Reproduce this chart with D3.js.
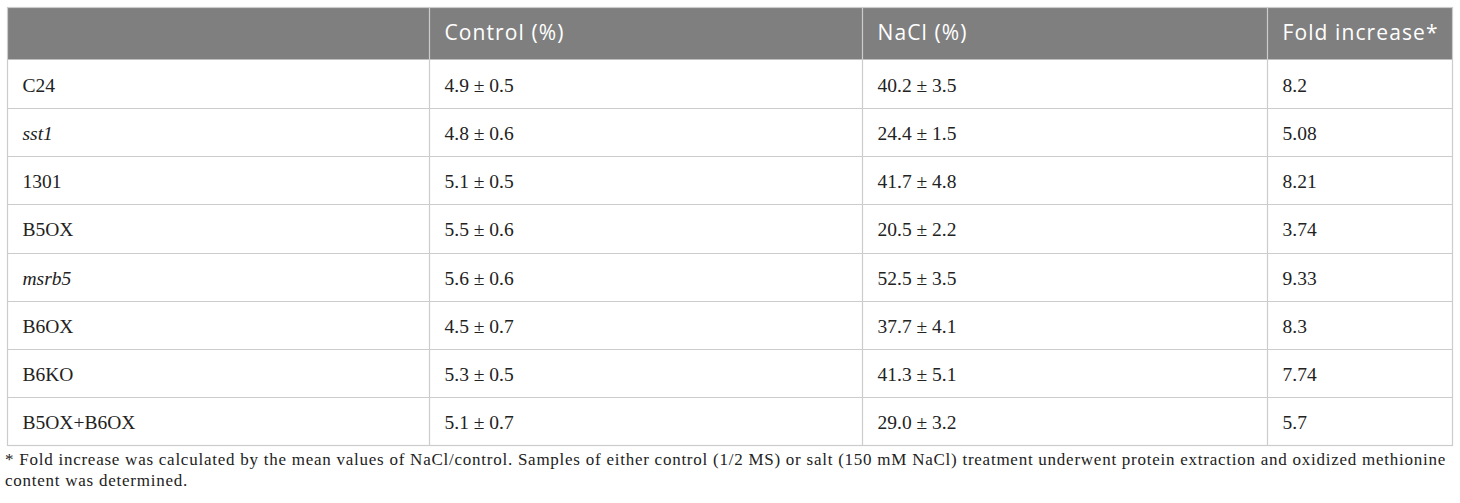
<!DOCTYPE html>
<html><head><meta charset="utf-8">
<script src="https://cdn.jsdelivr.net/npm/d3@7"></script>
<style>
html,body{margin:0;padding:0;background:#fff;}
svg{display:block;}
</style></head>
<body>
<svg id="c" width="1460" height="503"></svg>
<script>
const headers = ["", "Control (%)", "NaCl (%)", "Fold increase*"];
const genotypes = ["C24", "sst1", "1301", "B5OX", "msrb5", "B6OX", "B6KO", "B5OX+B6OX"];
const italicRows = ["sst1", "msrb5"];
const controlValues = ["4.9 ± 0.5", "4.8 ± 0.6", "5.1 ± 0.5", "5.5 ± 0.6", "5.6 ± 0.6", "4.5 ± 0.7", "5.3 ± 0.5", "5.1 ± 0.7"];
const naclValues = ["40.2 ± 3.5", "24.4 ± 1.5", "41.7 ± 4.8", "20.5 ± 2.2", "52.5 ± 3.5", "37.7 ± 4.1", "41.3 ± 5.1", "29.0 ± 3.2"];
const foldValues = ["8.2", "5.08", "8.21", "3.74", "9.33", "8.3", "7.74", "5.7"];
const footnoteLines = [
  "* Fold increase was calculated by the mean values of NaCl/control. Samples of either control (1/2 MS) or salt (150 mM NaCl) treatment underwent protein extraction and oxidized methionine",
  "content was determined."
];

const svg = d3.select("#c");
const colEdges = [7.5, 429.5, 862.5, 1267.5, 1452.5];
const headTop = 7.5, headBottom = 59.5, tableBottom = 445.5;
const y = d3.scaleBand().domain(genotypes).range([headBottom, tableBottom]);
const x = d3.scaleOrdinal().domain(d3.range(4)).range(colEdges.slice(0,4));
const lineColor = "#cccccc";

// header
svg.append("rect").attr("x", colEdges[0]).attr("y", headTop)
  .attr("width", colEdges[4]-colEdges[0]).attr("height", headBottom-headTop)
  .attr("fill", "#7f7f7f");
svg.selectAll("text.h").data(headers).join("text")
  .attr("class","h")
  .attr("x", (d,i)=> x(i) + 15)
  .attr("y", 39.5)
  .attr("fill", "#fff")
  .attr("font-family", "'Open Sans', sans-serif")
  .attr("font-size", 21)
  .attr("letter-spacing", 1.1)
  .text(d=>d);

// row lines
svg.selectAll("line.r").data(genotypes.slice(1)).join("line")
  .attr("x1", colEdges[0]).attr("x2", colEdges[4])
  .attr("y1", d=>Math.round(y(d))+0.5).attr("y2", d=>Math.round(y(d))+0.5)
  .attr("stroke", lineColor).attr("stroke-width", 1.2);
// outer border
svg.append("rect").attr("x", colEdges[0]).attr("y", headTop)
  .attr("width", colEdges[4]-colEdges[0]).attr("height", tableBottom-headTop)
  .attr("fill","none").attr("stroke", lineColor).attr("stroke-width", 1.2);
// column lines
svg.selectAll("line.c").data(colEdges.slice(1,4)).join("line")
  .attr("x1", d=>d).attr("x2", d=>d)
  .attr("y1", headTop).attr("y2", tableBottom)
  .attr("stroke", lineColor).attr("stroke-width", 1.2);

const rows = genotypes.map((g,i)=>[g, controlValues[i], naclValues[i], foldValues[i]]);
const rowG = svg.selectAll("g.row").data(rows).join("g").attr("class","row")
  .attr("transform", d=>`translate(0,${y(d[0]) + y.bandwidth()/2 + 8})`);
rowG.selectAll("text").data(d=>d.map((v,i)=>({v,i,g:d[0]}))).join("text")
  .attr("x", d=> x(d.i) + 15)
  .attr("y", 0)
  .attr("fill", "#222")
  .attr("font-family", "'Liberation Serif', 'Times New Roman', serif")
  .attr("font-size", 19.5)
  .attr("font-style", d=> (d.i===0 && italicRows.includes(d.g)) ? "italic" : "normal")
  .text(d=>d.v);

svg.selectAll("text.f").data(footnoteLines).join("text")
  .attr("class","f")
  .attr("x", 5)
  .attr("y", (d,i)=> 465 + i*21)
  .attr("fill", "#222")
  .attr("font-family", "'Liberation Serif', 'Times New Roman', serif")
  .attr("font-size", 17)
  .attr("letter-spacing", 0.75)
  .text(d=>d);
</script>
</body></html>
